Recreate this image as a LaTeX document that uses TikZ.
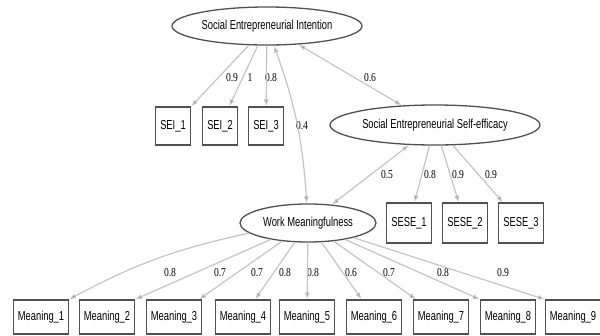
\documentclass[tikz,border=0pt]{standalone}
\usepackage{fontspec}
\setmainfont{Liberation Serif}
\newfontfamily\nodefont[FakeStretch=0.72]{Liberation Sans}
\newfontfamily\loadfont[FakeStretch=0.8]{Liberation Serif}
\usetikzlibrary{shapes.geometric,arrows.meta}
\definecolor{edgegray}{HTML}{C4C4C4}
\definecolor{bordergray}{HTML}{505050}
\begin{document}
\begin{tikzpicture}[x=1pt, y=-1pt, >={Latex[length=7pt,width=5pt]}]
    \tikzstyle{latent_style} = [ellipse, draw=bordergray, line width=1.3pt, inner sep=0pt, font=\nodefont\fontsize{13}{15}\selectfont]
    \tikzstyle{item_style} = [rectangle, draw=bordergray, line width=1.2pt, minimum height=38, inner sep=0pt, font=\nodefont\fontsize{13}{15}\selectfont]
    \tikzstyle{mean_style} = [item_style, minimum width=55, minimum height=34]
    \tikzstyle{load_style} = [inner sep=0pt, font=\loadfont\fontsize{12}{14}\selectfont]
    \tikzstyle{edge_style} = [draw=edgegray, line width=1.2pt, ->]
    \tikzstyle{cov_style} = [draw=edgegray, line width=1.2pt, <->]
    \useasboundingbox (0,0) rectangle (600,335);

    \node[latent_style, minimum width=190, minimum height=38] (sei) at (267,26) {Social Entrepreneurial Intention};
    \node[latent_style, minimum width=210, minimum height=40] (sese) at (435,125) {Social Entrepreneurial Self-efficacy};
    \node[latent_style, minimum width=136, minimum height=38] (wm) at (308,223) {Work Meaningfulness};

    \node[item_style, minimum width=35] (sei1) at (173,126) {SEI\_1};
    \node[item_style, minimum width=35] (sei2) at (220,126) {SEI\_2};
    \node[item_style, minimum width=35] (sei3) at (266,126) {SEI\_3};
    \node[item_style, minimum width=45, minimum height=40] (sese1) at (409,223) {SESE\_1};
    \node[item_style, minimum width=45, minimum height=40] (sese2) at (465,223) {SESE\_2};
    \node[item_style, minimum width=45, minimum height=40] (sese3) at (521,223) {SESE\_3};

    \node[mean_style] (m1) at (41,317) {Meaning\_1};
    \node[mean_style] (m2) at (107,317) {Meaning\_2};
    \node[mean_style] (m3) at (174,317) {Meaning\_3};
    \node[mean_style] (m4) at (243,317) {Meaning\_4};
    \node[mean_style] (m5) at (307,317) {Meaning\_5};
    \node[mean_style] (m6) at (374,317) {Meaning\_6};
    \node[mean_style] (m7) at (441,317) {Meaning\_7};
    \node[mean_style] (m8) at (508,317) {Meaning\_8};
    \node[mean_style] (m9) at (573,317) {Meaning\_9};

    % loadings and covariances
    \node[load_style] (l_sei1) at (232,78) {0.9};
    \node[load_style] (l_sei2) at (250,78) {1};
    \node[load_style] (l_sei3) at (271,78) {0.8};
    \node[load_style] (l_cov1) at (370,78) {0.6};
    \node[load_style] (l_cov2) at (302,126) {0.4};
    \node[load_style] (l_cov3) at (387,175) {0.5};
    \node[load_style] (l_sese1) at (430,175) {0.8};
    \node[load_style] (l_sese2) at (458,175) {0.9};
    \node[load_style] (l_sese3) at (491,175) {0.9};
    \node[load_style] (l_m1) at (170,273) {0.8};
    \node[load_style] (l_m2) at (220,273) {0.7};
    \node[load_style] (l_m3) at (257,273) {0.7};
    \node[load_style] (l_m4) at (285,273) {0.8};
    \node[load_style] (l_m5) at (313,273) {0.8};
    \node[load_style] (l_m6) at (351,273) {0.6};
    \node[load_style] (l_m7) at (389,273) {0.7};
    \node[load_style] (l_m8) at (443,273) {0.8};
    \node[load_style] (l_m9) at (503,273) {0.9};

    \draw[edge_style]  (sei) edge (sei1.north east);
    \draw[edge_style]  (sei) edge (sei2);
    \draw[edge_style]  (sei) edge (sei3);
    \draw[cov_style]  (sei) edge (sese);
    \draw[cov_style]  (sei) edge[bend left=8] (wm);
    \draw[cov_style]  (sese) edge (wm);
    \draw[edge_style]  (sese) edge (sese1);
    \draw[edge_style]  (sese) edge (sese2);
    \draw[edge_style]  (sese) edge (sese3);
    \draw[edge_style]  (wm) edge[bend right=8] (m1.north east);
    \draw[edge_style]  (wm) edge (m2.north east);
    \draw[edge_style]  (wm) edge (m3);
    \draw[edge_style]  (wm) edge (m4);
    \draw[edge_style]  (wm) edge (m5);
    \draw[edge_style]  (wm) edge (m6);
    \draw[edge_style]  (wm) edge (m7);
    \draw[edge_style]  (wm) edge (m8.north west);
    \draw[edge_style]  (wm) edge (m9.north west);
\end{tikzpicture}
\end{document}
